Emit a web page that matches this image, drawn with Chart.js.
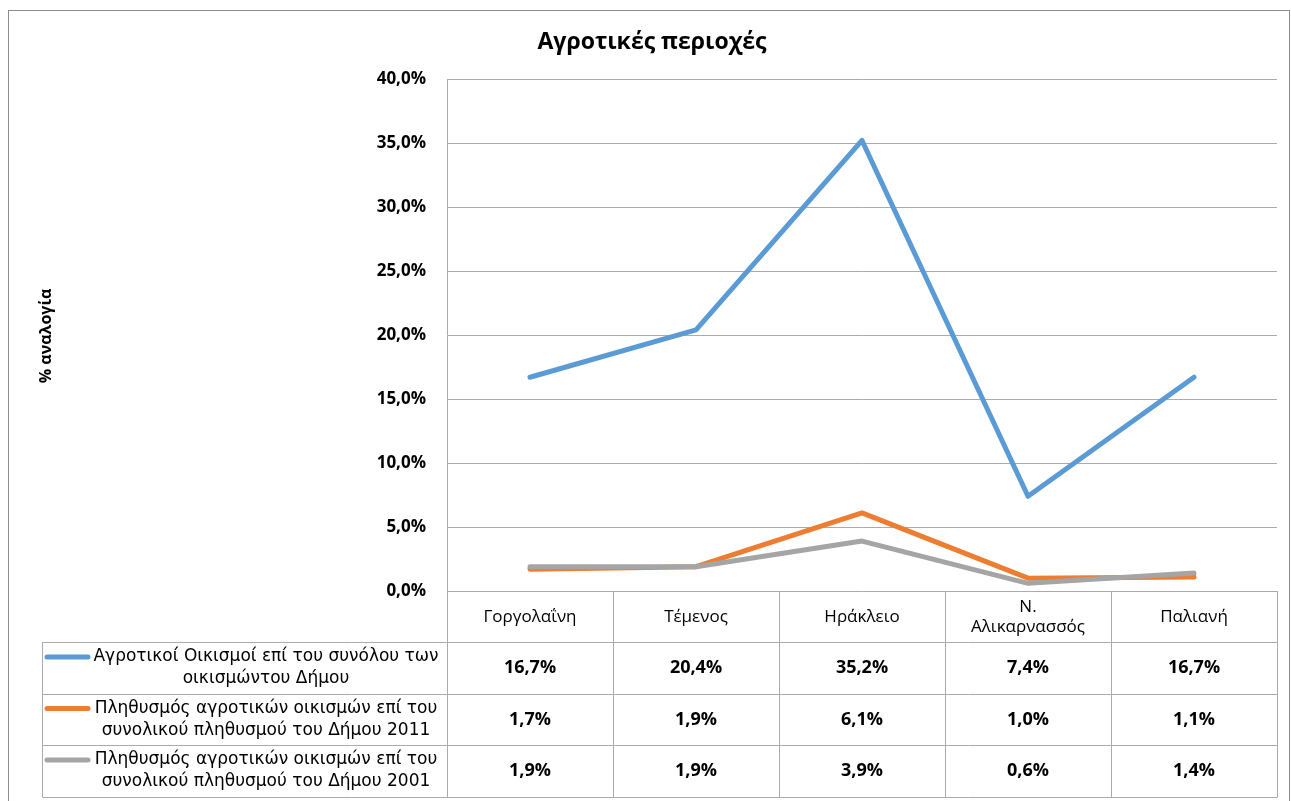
<!DOCTYPE html>
<html lang="el">
<head>
<meta charset="UTF-8">
<title>Αγροτικές περιοχές</title>
<script src="https://cdn.jsdelivr.net/npm/chart.js"></script>
<style>
  html, body { margin: 0; padding: 0; background: #fff; }
</style>
</head>
<body>
<canvas id="agroChart" width="1291" height="801"></canvas>
<script>
// Περιοχές (στήλες πίνακα / κατηγορίες άξονα x)
const areas = ['Γοργολαΐνη', 'Τέμενος', 'Ηράκλειο', ['Ν.', 'Αλικαρνασσός'], 'Παλιανή'];

// Ποσοστά ανά σειρά (%)
const settlementsShare = [16.7, 20.4, 35.2, 7.4, 16.7];
const population2011 = [1.7, 1.9, 6.1, 1.0, 1.1];
const population2001 = [1.9, 1.9, 3.9, 0.6, 1.4];

// Ονόματα σειρών, σπασμένα σε γραμμές όπως στον πίνακα
const seriesNames = [
  ['Αγροτικοί Οικισμοί επί του συνόλου των', 'οικισμώντου Δήμου'],
  ['Πληθυσμός αγροτικών οικισμών επί του', 'συνολικού πληθυσμού του Δήμου 2011'],
  ['Πληθυσμός αγροτικών οικισμών επί του', 'συνολικού πληθυσμού του Δήμου 2001']
];
const seriesColors = ['#5B9BD5', '#ED7D31', '#A5A5A5'];

// Άξονας y
const yMin = 0, yMax = 40, yStep = 5;
const chartTitle = 'Αγροτικές περιοχές';
const yTitle = '% αναλογία';

function fmtPct(v) {
  return v.toFixed(1).replace('.', ',') + '%';
}

const lineColor = '#ababab';
const rowH = [51, 52, 51, 52]; // κεφαλίδα + 3 γραμμές

// Τίτλος, πλαίσιο και πίνακας δεδομένων κάτω από το γράφημα
const tablePlugin = {
  id: 'dataTable',
  afterDraw(chart) {
    const ctx = chart.ctx;
    const area = chart.chartArea;
    const xs = chart.scales.x;
    const half = (xs.getPixelForValue(1) - xs.getPixelForValue(0)) / 2;
    const labelLeft = 42;
    const datasets = chart.data.datasets;

    ctx.save();
    // εξωτερικό πλαίσιο
    ctx.strokeStyle = '#8c8c8c';
    ctx.lineWidth = 1;
    ctx.strokeRect(8.5, 10.5, 1281, 800);

    // τίτλος
    ctx.fillStyle = '#000';
    ctx.textAlign = 'center';
    ctx.textBaseline = 'middle';
    ctx.font = 'bold 23px "Open Sans"';
    ctx.fillText(chartTitle, 652, 42);

    // τίτλος άξονα y
    ctx.save();
    ctx.translate(46, 336);
    ctx.rotate(-Math.PI / 2);
    ctx.font = 'bold 16px "Open Sans"';
    ctx.fillText(yTitle, 0, 0);
    ctx.restore();

    // γραμμές πίνακα
    const top = area.bottom;
    const ys = [top];
    rowH.forEach(h => ys.push(ys[ys.length - 1] + h));
    const bottom = ys[ys.length - 1];

    ctx.strokeStyle = lineColor;
    ctx.beginPath();
    for (let i = 0; i < areas.length; i++) {
      const x = Math.round(xs.getPixelForValue(i) - half) + 0.5;
      ctx.moveTo(x, top); ctx.lineTo(x, bottom);
    }
    const xr = Math.round(xs.getPixelForValue(areas.length - 1) + half) + 0.5;
    ctx.moveTo(xr, top); ctx.lineTo(xr, bottom);
    for (let r = 1; r < ys.length; r++) {
      const y = Math.round(ys[r]) + 0.5;
      ctx.moveTo(labelLeft + 0.5, y); ctx.lineTo(xr, y);
    }
    ctx.moveTo(labelLeft + 0.5, ys[1]); ctx.lineTo(labelLeft + 0.5, bottom);
    ctx.stroke();

    // κεφαλίδες στηλών
    ctx.fillStyle = '#000';
    ctx.font = '17px "Open Sans"';
    const hc = (ys[0] + ys[1]) / 2 + 1;
    areas.forEach((a, i) => {
      const x = xs.getPixelForValue(i);
      const lines = Array.isArray(a) ? a : [a];
      lines.forEach((t, k) => {
        ctx.fillText(t, x, hc + (k - (lines.length - 1) / 2) * 20);
      });
    });

    // γραμμές σειρών: υπόμνημα + τιμές
    datasets.forEach((ds, r) => {
      const cy = (ys[r + 1] + ys[r + 2]) / 2;
      const l1 = cy - 11, l2 = cy + 11;

      ctx.strokeStyle = ds.borderColor;
      ctx.lineWidth = 5;
      ctx.lineCap = 'round';
      ctx.beginPath();
      ctx.moveTo(47, l1); ctx.lineTo(88, l1);
      ctx.stroke();

      ctx.fillStyle = '#000';
      ctx.font = '17px "DejaVu Sans"';
      ctx.textAlign = 'center';
      ctx.fillText(seriesNames[r][0], 266, l1);
      ctx.fillText(seriesNames[r][1], 266, l2);

      ctx.font = 'bold 18px "Open Sans"';
      ds.data.forEach((v, i) => {
        ctx.fillText(fmtPct(v), xs.getPixelForValue(i), cy);
      });
    });
    ctx.restore();
  }
};

const ctx = document.getElementById('agroChart').getContext('2d');
new Chart(ctx, {
  type: 'line',
  data: {
    labels: areas,
    datasets: [
      { label: seriesNames[0].join(' '), data: settlementsShare, borderColor: seriesColors[0], order: 2 },
      { label: seriesNames[1].join(' '), data: population2011, borderColor: seriesColors[1], order: 1 },
      { label: seriesNames[2].join(' '), data: population2001, borderColor: seriesColors[2], order: 0 }
    ].map(d => Object.assign(d, {
      borderWidth: 5, pointRadius: 0, tension: 0, fill: false,
      borderCapStyle: 'round', borderJoinStyle: 'round'
    }))
  },
  options: {
    responsive: false,
    animation: false,
    layout: { padding: { top: 79, right: 14, bottom: 210, left: 0 } },
    plugins: {
      legend: { display: false },
      tooltip: { enabled: false }
    },
    scales: {
      x: {
        offset: true,
        grid: { display: false, drawTicks: false },
        border: { display: false },
        ticks: { display: false },
        afterFit(s) { s.height = 0; }
      },
      y: {
        min: yMin,
        max: yMax,
        ticks: {
          stepSize: yStep,
          padding: 21,
          color: '#000',
          font: { family: '"Open Sans"', size: 17, weight: 'bold' },
          callback: v => fmtPct(v)
        },
        grid: { color: lineColor, drawTicks: false },
        border: { color: lineColor },
        afterFit(s) { s.width = 447; }
      }
    }
  },
  plugins: [tablePlugin]
});
</script>
</body>
</html>
